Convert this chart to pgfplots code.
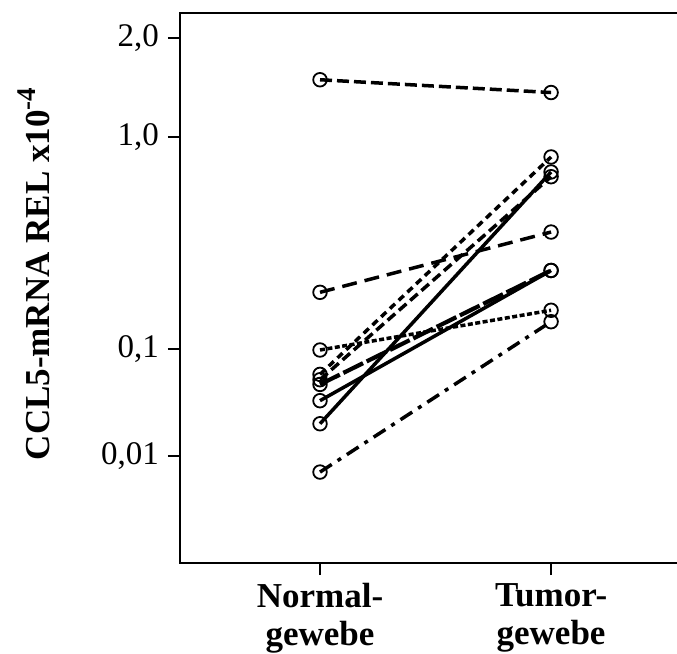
\documentclass[border=0pt]{standalone}
\usepackage{fontspec}
\setmainfont{Liberation Serif}
\usepackage{pgfplots}
\pgfplotsset{compat=1.18}
\usetikzlibrary{calc}
\begin{document}
\begin{tikzpicture}
\begin{axis}[
  scale only axis,
  width=497pt, height=550pt,
  xmin=0.394, xmax=2.545,
  ymin=0, ymax=1.2904,
  axis x line*=bottom, axis y line*=left,
  axis line style={line width=2.8pt, line cap=rect},
  xtick={1,2},
  xticklabels={{Normal-\\gewebe},{Tumor-\\gewebe}},
  ytick={0.251189,0.501187,1,1.231144},
  yticklabels={{0,01},{0,1},{1,0},{2,0}},
  tick align=outside,
  major tick length=12pt,
  minor tick num=0,
  tick style={line width=2pt, black},
  xticklabel style={font=\fontsize{35}{38}\selectfont\bfseries, align=center, inner sep=8pt},
  yticklabel style={font=\fontsize{33}{36}\selectfont, inner sep=9pt},
  ylabel={CCL5-mRNA REL x10\raisebox{0.42em}{\fontsize{27}{30}\selectfont -4}},
  ylabel style={font=\fontsize{35}{40}\selectfont\bfseries, at={(axis description cs:-0.2616,0.5255)}, anchor=base, inner sep=0pt},
  clip=false,
  every axis plot/.append style={black, line width=3.5pt, mark=o, mark size=6.8pt,
    mark options={solid, line width=1.8pt}},
]
% long dash
\addplot[dash pattern=on 12pt off 5pt] table[row sep=\\, x=x, y expr={(\thisrow{v})^(0.3)}] {x v\\ 1 1.52\\ 2 1.39\\};
\addplot[dash pattern=on 15pt off 8pt] table[row sep=\\, x=x, y expr={(\thisrow{v})^(0.3)}] {x v\\ 1 0.22\\ 2 0.43\\};
% dense dotted
\addplot[dash pattern=on 5pt off 2.5pt] table[row sep=\\, x=x, y expr={(\thisrow{v})^(0.3)}] {x v\\ 1 0.099\\ 2 0.175\\};
% dash dot
\addplot[dash pattern=on 14pt off 7pt on 4pt off 7pt] table[row sep=\\, x=x, y expr={(\thisrow{v})^(0.3)}] {x v\\ 1 0.0058\\ 2 0.150\\};
% short dash
\addplot[dash pattern=on 7pt off 5pt] table[row sep=\\, x=x, y expr={(\thisrow{v})^(0.3)}] {x v\\ 1 0.066\\ 2 0.85\\};
% solid
\addplot[solid] table[row sep=\\, x=x, y expr={(\thisrow{v})^(0.3)}] {x v\\ 1 0.024\\ 2 0.75\\};
% dashed
\addplot[dash pattern=on 10pt off 5pt] table[row sep=\\, x=x, y expr={(\thisrow{v})^(0.3)}] {x v\\ 1 0.060\\ 2 0.72\\};
% solid
\addplot[solid] table[row sep=\\, x=x, y expr={(\thisrow{v})^(0.3)}] {x v\\ 1 0.040\\ 2 0.285\\};
% long dash thick
\addplot[dash pattern=on 22pt off 4pt, line width=4.2pt] table[row sep=\\, x=x, y expr={(\thisrow{v})^(0.3)}] {x v\\ 1 0.055\\ 2 0.285\\};
\draw[line width=2.8pt, line cap=rect] (axis description cs:0,1) -- (axis description cs:1,1);
\end{axis}
\pgfresetboundingbox
\path ($(current axis.south west)+(-180pt,-90pt)$) rectangle ($(current axis.north east)+(0,13pt)$);
\end{tikzpicture}
\end{document}
